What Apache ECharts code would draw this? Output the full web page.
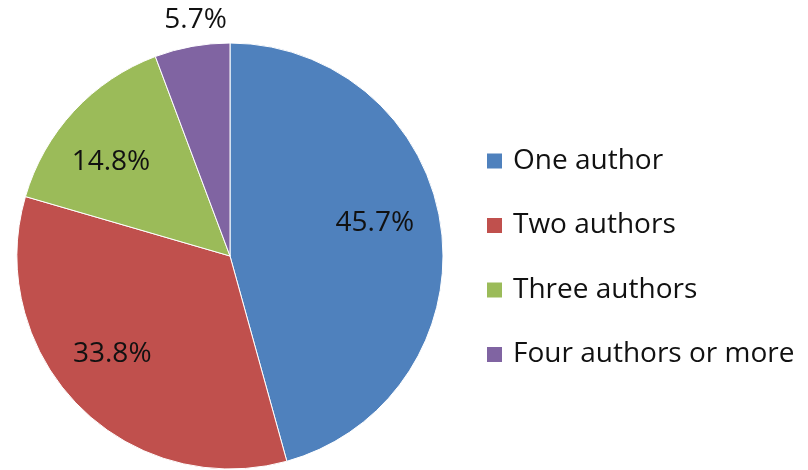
<!DOCTYPE html>
<html>
<head>
<meta charset="utf-8">
<script src="https://cdn.jsdelivr.net/npm/echarts@6/dist/echarts.min.js"></script>
<style>html,body{margin:0;padding:0;background:#fff}#c{width:808px;height:470px}</style>
</head>
<body>
<div id="c"></div>
<script>
const categories = ['One author', 'Two authors', 'Three authors', 'Four authors or more'];
const values = [45.7, 33.8, 14.8, 5.7];
const colors = ['#4F81BD', '#C0504D', '#9BBB59', '#8064A2'];
const outsideLabel = [false, false, false, true];
const labelOffsets = [[-8, -12], [-8, -10], [-6, 11], [9, 4]];

const FONT = '"Open Sans", "Liberation Sans", sans-serif';
const cx = 230, cy = 256, R = 213;

const visData = categories.map((n, i) => ({ name: n, value: values[i], itemStyle: { color: colors[i] } }));
const lblInside = categories.map((n, i) => ({ name: n, value: values[i], label: { show: !outsideLabel[i], offset: labelOffsets[i] } }));
const lblOutside = categories.map((n, i) => ({ name: n, value: values[i], label: { show: outsideLabel[i], offset: labelOffsets[i] } }));

const labelStyle = {
  position: 'inside',
  formatter: p => p.value.toFixed(1) + '%',
  fontFamily: FONT, fontSize: 28, color: '#111'
};
const transparent = { color: 'rgba(0,0,0,0)', borderWidth: 0 };

const chart = echarts.init(document.getElementById('c'), null, { renderer: 'canvas' });
chart.setOption({
  backgroundColor: '#fff',
  animation: false,
  color: colors,
  legend: {
    orient: 'vertical',
    left: 487, top: 146,
    padding: 0,
    itemWidth: 15, itemHeight: 15,
    itemGap: 34.5,
    icon: 'rect',
    itemStyle: { borderWidth: 0 },
    data: categories,
    textStyle: { fontFamily: FONT, fontSize: 28, color: '#111', lineHeight: 30, padding: [0, 0, 0, 6] }
  },
  series: [
    {
      type: 'pie', center: [cx, cy], radius: [0, R],
      startAngle: 90, clockwise: true,
      label: { show: false }, labelLine: { show: false },
      itemStyle: { borderColor: '#fff', borderWidth: 1 },
      silent: true,
      data: visData
    },
    {
      type: 'pie', center: [cx, cy], radius: [R * 0.42, R],
      startAngle: 90, clockwise: true,
      label: labelStyle, labelLine: { show: false },
      itemStyle: transparent, silent: true, legendHoverLink: false,
      data: lblInside
    },
    {
      type: 'pie', center: [cx, cy], radius: [R, R * 1.26],
      startAngle: 90, clockwise: true,
      label: labelStyle, labelLine: { show: false },
      itemStyle: transparent, silent: true, legendHoverLink: false,
      data: lblOutside
    }
  ]
});
</script>
</body>
</html>
